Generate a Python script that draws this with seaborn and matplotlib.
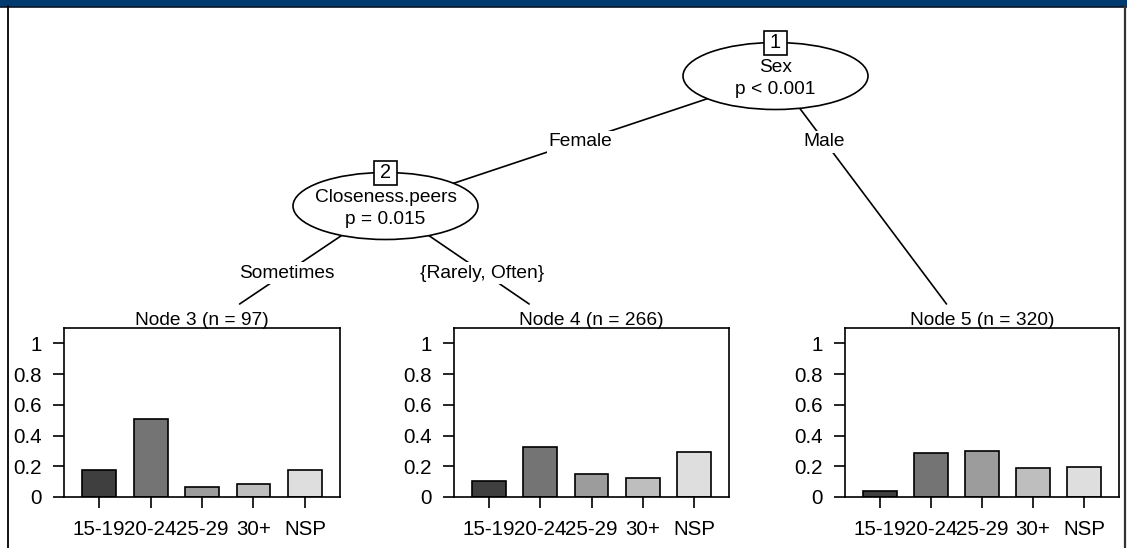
import matplotlib
matplotlib.use("Agg")
import matplotlib.pyplot as plt
from matplotlib.patches import Ellipse, Rectangle
import seaborn as sns
import pandas as pd

# ---- data -------------------------------------------------------------
age_groups = ["15-19", "20-24", "25-29", "30+", "NSP"]
node3_props = [0.175, 0.505, 0.062, 0.082, 0.175]
node4_props = [0.105, 0.327, 0.150, 0.124, 0.293]
node5_props = [0.038, 0.288, 0.300, 0.186, 0.194]
terminal_ids = [3, 4, 5]
terminal_n = [97, 266, 320]
y_ticks = [0, 0.2, 0.4, 0.6, 0.8, 1]
y_tick_labels = ["0", "0.2", "0.4", "0.6", "0.8", "1"]

inner_ids = [1, 2]
inner_vars = ["Sex", "Closeness.peers"]
inner_pvals = ["p < 0.001", "p = 0.015"]
edge_labels = ["Female", "Male", "Sometimes", "{Rarely, Often}"]

bar_colors = ["#3f3f3f", "#747474", "#9c9c9c", "#bebebe", "#dedede"]

sns.set_theme(style="white")
plt.rcParams["font.family"] = ["Liberation Sans", "DejaVu Sans"]
plt.rcParams["text.color"] = "black"
plt.rcParams["axes.labelcolor"] = "black"
plt.rcParams["xtick.color"] = "black"
plt.rcParams["ytick.color"] = "black"
FS = 13.8
TICK_FS = 14.8
LW = 1.2

W, H = 1127, 548
fig = plt.figure(figsize=(W / 100, H / 100), dpi=100)
fig.patch.set_facecolor("white")

# overlay axes in pixel coordinates for the tree structure
tree = fig.add_axes([0, 0, 1, 1], zorder=0)
tree.set_xlim(0, W)
tree.set_ylim(H, 0)
tree.axis("off")

# page frame: navy header band and side rules
tree.add_patch(Rectangle((0, 0), W, 6.5, fc="#013a6e", ec="none"))
tree.plot([0, W], [6.8, 6.8], color="#0b1526", lw=1.2)
tree.plot([7.5, 7.5], [6, H], color="black", lw=1.3)
tree.plot([1124.5, 1124.5], [6, H], color="#333333", lw=1.6)

# node layout (pixel coordinates)
inner_pos = {1: (775.5, 76), 2: (385.5, 206)}
term_pos = {3: (189, 338), 4: (579, 338), 5: (972, 338)}
term_top = 304


def clip_point(p, c, ylim):
    t = (ylim - p[1]) / (c[1] - p[1])
    return (p[0] + t * (c[0] - p[0]), ylim)


edges = [
    (1, inner_pos[2], 0, 0.5),
    (1, term_pos[5], 1, None),
    (2, term_pos[3], 2, 0.5),
    (2, term_pos[4], 3, 0.5),
]
for parent, child, li, frac in edges:
    p = inner_pos[parent]
    end = child if child[1] < term_top else clip_point(p, child, term_top)
    tree.plot([p[0], end[0]], [p[1], end[1]], color="black", lw=LW, zorder=1)
    if frac is None:
        ly = 141
        lx = p[0] + (ly - p[1]) / (child[1] - p[1]) * (child[0] - p[0])
    else:
        lx = p[0] + frac * (child[0] - p[0])
        ly = p[1] + frac * (child[1] - p[1])
    tree.text(lx, ly + 1, edge_labels[li], ha="center", va="center",
              fontsize=FS, color="black", zorder=3,
              bbox=dict(fc="white", ec="none", pad=1.5))

for nid, var, pv in zip(inner_ids, inner_vars, inner_pvals):
    cx, cy = inner_pos[nid]
    tree.add_patch(Ellipse((cx, cy), 185, 67, fc="white", ec="black",
                           lw=LW, zorder=4))
    tree.text(cx, cy - 8, var, ha="center", va="center", fontsize=FS,
              color="black", zorder=5)
    tree.text(cx, cy + 13.5, pv, ha="center", va="center", fontsize=FS,
              color="black", zorder=5)
    tree.add_patch(Rectangle((cx - 11.5, cy - 33.5 - 12), 23, 24, fc="white",
                             ec="black", lw=LW, zorder=6))
    tree.text(cx, cy - 33, str(nid), ha="center", va="center",
              fontsize=FS + 0.5, color="black", zorder=7)

# terminal bar panels
panel_x = [(64, 340), (454, 729), (845, 1119)]
panel_top, panel_bottom = 328, 497
props_list = [node3_props, node4_props, node5_props]

for (x0, x1), nid, n, props in zip(panel_x, terminal_ids, terminal_n, props_list):
    ax = fig.add_axes([x0 / W, 1 - panel_bottom / H, (x1 - x0) / W,
                       (panel_bottom - panel_top) / H], zorder=2)
    df = pd.DataFrame({"age": age_groups, "prop": props})
    sns.barplot(data=df, x="age", y="prop", hue="age", palette=bar_colors,
                order=age_groups, hue_order=age_groups, legend=False,
                edgecolor="black", linewidth=LW, width=0.66, ax=ax)
    ax.set_xlim(-0.68, 4.68)
    ax.set_ylim(0, 1.1)
    ax.set_facecolor("white")
    for s in ax.spines.values():
        s.set_visible(True)
        s.set_color("black")
        s.set_linewidth(LW)
    ax.set_yticks(y_ticks)
    ax.set_yticklabels(y_tick_labels)
    ax.set_xticks(range(len(age_groups)))
    ax.set_xticklabels(age_groups)
    ax.tick_params(axis="y", direction="out", length=8, width=LW,
                   pad=8, labelsize=TICK_FS, left=True, colors="black")
    ax.tick_params(axis="x", direction="out", length=8, width=LW,
                   pad=8.5, labelsize=TICK_FS, bottom=True, colors="black")
    ax.set_xlabel("")
    ax.set_ylabel("")
    ax.set_title(f"Node {nid} (n = {n})", fontsize=FS, pad=2.5, color="black")

fig.savefig("out.png", dpi=100)
